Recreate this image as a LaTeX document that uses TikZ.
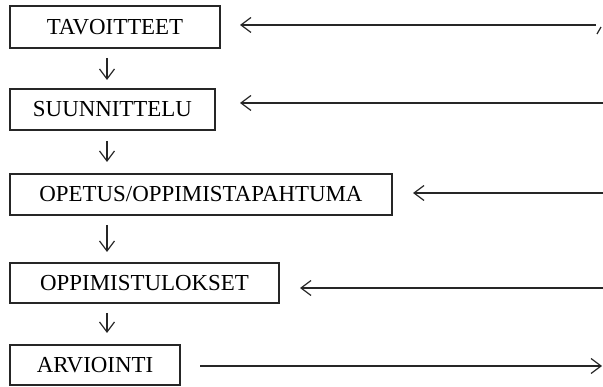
\documentclass[tikz,border=0pt]{standalone}
\usepackage{fontspec}
\setmainfont{Liberation Serif}
\usetikzlibrary{arrows.meta}
\tikzset{
  box/.style={draw=black!85, line width=1.2pt, inner sep=0pt, outer sep=0pt, anchor=north west,
    font=\fontsize{22.9}{27}\selectfont, text=black},
  arr/.style={draw=black!85, line width=1.2pt, -{Straight Barb[length=10pt,width=15pt,line width=1.2pt]}},
  ln/.style={draw=black!85, line width=1.2pt}
}
\begin{document}
\begin{tikzpicture}[x=1pt,y=-1pt]
\useasboundingbox (0,0) rectangle (603,387);
\node[box, minimum width=210pt, minimum height=42pt] (b1) at (10,6) {TAVOITTEET};
\node[box, minimum width=205pt, minimum height=41pt] (b2) at (10,89) {SUUNNITTELU};
\node[box, minimum width=382pt, minimum height=41pt] (b3) at (10,174) {OPETUS/OPPIMISTAPAHTUMA};
\node[box, minimum width=269pt, minimum height=40pt] (b4) at (10,263) {OPPIMISTULOKSET};
\node[box, minimum width=170pt, minimum height=40pt] (b5) at (10,345) {ARVIOINTI};
\coordinate (ax) at (107,0);
\draw[arr, shorten <=10pt, shorten >=9pt] (b1.south -| ax) -- (b2.north -| ax);
\draw[arr, shorten <=11pt, shorten >=12pt] (b2.south -| ax) -- (b3.north -| ax);
\draw[arr, shorten <=10pt, shorten >=11pt] (b3.south -| ax) -- (b4.north -| ax);
\draw[arr, shorten <=10pt, shorten >=12pt] (b4.south -| ax) -- (b5.north -| ax);
\coordinate (r1) at (596,25);
\coordinate (r2) at (603,103);
\coordinate (r3) at (603,193);
\coordinate (r4) at (603,288);
\coordinate (r5) at (602,366);
\draw[arr, shorten >=20pt] (r1) -- (b1.east |- r1);
\draw[arr, shorten >=25pt] (r2) -- (b2.east |- r2);
\draw[arr, shorten >=21pt] (r3) -- (b3.east |- r3);
\draw[arr, shorten >=21pt] (r4) -- (b4.east |- r4);
\draw[arr, shorten <=20pt] (b5.east |- r5) -- (r5);
\coordinate (f1) at (597,34);
\coordinate (f2) at (601,27);
\draw[ln] (f1) -- (f2);
\end{tikzpicture}
\end{document}
